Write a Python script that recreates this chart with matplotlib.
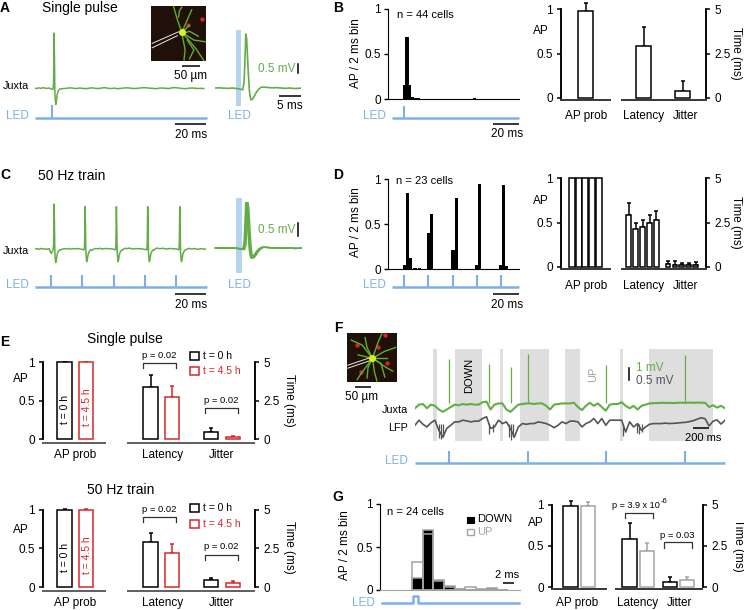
import matplotlib
matplotlib.use("Agg")
import matplotlib.pyplot as plt
import numpy as np
from matplotlib.patches import Rectangle

W, H = 744, 610
GREEN = "#62ad45"
BLUE = "#7db0ea"
PALE_BLUE = "#b3d5ee"
RED = "#d9262c"
GREY = "#a3a3a3"
SHADE = "#dedede"
DARK = "#333333"

plt.rcParams["font.family"] = ["Liberation Sans", "DejaVu Sans"]
plt.rcParams["font.size"] = 8.5

# panel A and C traces, mV
SPIKE_T = [-0.6, -0.3, 0, 0.25, 0.5, 0.8, 1.1, 1.5, 2, 2.8, 3.6]
SPIKE_V = [-0.02, 0.1, 1, 0.55, -0.05, -0.22, -0.3, -0.24, -0.12, -0.05, -0.02]
A_SPIKE_TIMES = [12.3]
A_SPIKE_SCALE = [3.05]
A_GAPS = [
    [-0.01, -0.03, 0.01, -0.02, 0.02, -0.01, -0.02, 0.0, -0.06],
    [-0.05, -0.03, -0.02, 0.01, -0.01, -0.03, 0.0, -0.02, -0.04, -0.01, 0.01, -0.02, -0.03, 0.0, 0.02,
     -0.02, -0.03, -0.01, -0.04, -0.02, 0.0, 0.01, -0.01, -0.03, -0.02, 0.0, 0.02, 0.01, -0.01, -0.02,
     -0.04, -0.01, 0.0, -0.02, -0.03, 0.01, 0.02, 0.0, -0.02, -0.04, -0.02, 0.0, -0.01, -0.03, -0.02, -0.03],
]
C_SPIKE_TIMES = [12.3, 32.3, 52.5, 72.7, 93.4]
C_SPIKE_SCALE = [2.5, 2.35, 2.35, 2.35, 2.35]
C_GAPS = [
    [0.0, 0.02, -0.02, 0.03, 0.0, 0.01, -0.02, 0.02, -0.25],
    [-0.06, -0.01, 0.02, 0.0, 0.03, -0.01, 0.02, 0.01, 0.03, 0.0, -0.02],
    [-0.08, -0.02, 0.03, 0.01, 0.04, 0.0, 0.02, 0.03, 0.0, 0.02, -0.01],
    [-0.05, 0.04, 0.02, 0.05, 0.02, 0.0, 0.03, 0.01, 0.02, 0.0, -0.02],
    [-0.06, 0.05, 0.03, 0.02, 0.04, 0.01, 0.0, 0.03, 0.02, 0.01, 0.0],
    [-0.04, 0.02, 0.03, 0.0, 0.01, 0.03, 0.0, -0.02, 0.01, 0.02, 0.0, -0.01],
]
AZ_T = [0, 1, 2, 3, 4, 4.5, 5, 5.5, 6, 6.3, 6.6, 6.8, 7, 7.2, 7.4, 7.6, 7.8, 8, 8.2, 8.5, 9, 9.5,
        10, 10.5, 11, 12, 13, 14, 15, 16, 17, 18, 19.5]
AZ_V = [0.0, 0.01, -0.01, -0.02, 0.0, -0.02, -0.03, -0.05, -0.08, -0.1, 0.3, 1.5, 3.0, 2.7, 1.7, 0.7,
        -0.1, -0.5, -0.67, -0.62, -0.42, -0.2, -0.05, 0.04, 0.05, 0.03, 0.01, 0.02, 0.0, -0.02, 0.0,
        -0.03, -0.01]
CZ_SHIFTS = [0.2, 0.35, 0.5, 0.7]
CZ_GAIN = 0.84

# histograms
B_BINS = [0.2, 2.3, 4.4, 6.5, 8.5, 10.5, 53]
B_HIST = [0.15, 0.69, 0.15, 0.02, 0.015, 0.01, 0.01]
D_BINS = [0.41, 2.73, 5.05, 9, 12.6, 20.2, 22.5, 40.2, 42.8, 59.6, 62, 79.6, 81.8, 84]
D_HIST = [0.04, 0.84, 0.12, 0.01, 0.01, 0.4, 0.61, 0.21, 0.79, 0.05, 0.95, 0.04, 0.93, 0.03]
G_BINS = [1, 3, 5, 7, 9, 11, 13, 15, 17]
G_DOWN = [0.14, 0.7, 0.12, 0.05, 0.01, 0.0, 0.0, 0.02, 0.0]
G_UP = [0.32, 0.65, 0.11, 0.03, 0.01, 0.03, 0.01, 0.01, 0.0]
G_LED_T = [-5.7, 0.1, 0.1, 1.1, 1.1, 20.1]
G_LED_V = [0, 0, 1, 1, 0, 0]

# bar panels: AP probability and time (ms)
B_PROB, B_PROB_ERR = [0.98], [0.09]
B_TIME, B_TIME_ERR = [2.95, 0.4], [1.05, 0.56]
D_PROB = [1, 1, 1, 1, 1]
D_LAT = [2.92, 2.11, 2.26, 2.49, 2.66]
D_LAT_ERR = [0.68, 0.38, 0.38, 0.45, 0.51]
D_JIT = [0.17, 0.1, 0.08, 0.08, 0.1]
D_JIT_ERR = [0.18, 0.2, 0.12, 0.12, 0.15]
E1_TIME_0, E1_TIME_0_ERR = [3.37, 0.48], [0.8, 0.26]
E1_TIME_4, E1_TIME_4_ERR = [2.76, 0.11], [0.72, 0.06]
E2_TIME_0, E2_TIME_0_ERR = [2.91, 0.45], [0.56, 0.15]
E2_TIME_4, E2_TIME_4_ERR = [2.22, 0.24], [0.54, 0.15]
G_PROB_DOWN, G_PROB_DOWN_ERR = [0.98], [0.07]
G_PROB_UP, G_PROB_UP_ERR = [0.98], [0.05]
G_TIME_DOWN, G_TIME_DOWN_ERR = [2.92, 0.34], [0.95, 0.31]
G_TIME_UP, G_TIME_UP_ERR = [2.2, 0.42], [0.48, 0.23]

# panel F, ms and mV
F_DURATION = 3950
F_DOWN_ON = [233, 510, 1083, 1338, 1911, 2612, 2985]
F_DOWN_OFF = [276, 850, 1125, 1703, 2098, 2650, 3800]
F_SPIKES = [437, 947, 1227, 1440, 2437, 3444]
F_HEIGHTS = [3.67, 3.3, 3.0, 4.1, 3.2, 4.0]
F_LED = [433, 1440, 2437, 3444]
F_JUXTA = [-0.4, -0.1, -0.05, -0.4, -0.1, -0.2, -0.5, -0.7, -0.5, -0.3, -0.1, -0.15, -0.05, -0.1, -0.05,
           -0.1, -0.1, 0.1, 0.15, -0.5, -0.1, 0.0, 0.0, -0.5, -0.7, -0.4, -0.1, -0.05, 0.0, 0.0, -0.05,
           0.0, 0.0, -0.2, -0.5, -0.1, -0.05, 0.0, 0.0, 0.0, 0.05, -0.3, -0.55, -0.2, 0.05, -0.2, 0.0,
           -0.3, -0.6, -0.1, -0.05, -0.05, 0.1, -0.2, -0.4, -0.2, -0.5, -0.2, -0.1, 0.0, 0.02, 0.03, 0.05,
           0.04, 0.05, 0.03, 0.05, 0.06, 0.05, 0.07, 0.05, 0.07, 0.06, 0.05, -0.3, -0.15, -0.35, -0.2, -0.4]
F_LFP = [-0.07, 0.14, -0.03, -0.14, 0.03, 0.14, -0.28, -0.56, -0.2, -0.07, 0.07, 0.07, 0.14, 0.11, 0.07,
         0.1, 0.1, 0.21, 0.28, -0.2, -0.14, 0.14, 0.0, 0.07, -0.21, -0.56, -0.14, 0.0, -0.03, 0.0, 0.0,
         0.07, 0.04, 0.0, -0.07, -0.17, -0.07, 0.07, 0.0, 0.1, 0.1, 0.07, -0.14, 0.0, 0.07, 0.21, 0.0,
         0.21, -0.07, 0.14, 0.14, 0.14, 0.14, -0.35, 0.07, -0.14, 0.0, -0.28, -0.14, -0.03, 0.0, 0.0, 0.0,
         0.02, 0.0, 0.01, 0.02, 0.04, 0.05, 0.08, 0.12, 0.18, 0.24, 0.2, -0.1, 0.1, 0.15, -0.02, 0.14]
F_LFP_DIPS = [306, 332, 357, 944, 995, 1199, 1225, 1250, 2653, 2832, 2857, 2891]
F_LFP_DEPTH = [-0.6, -0.65, -0.55, -0.45, -0.35, -0.55, -0.7, -0.55, -0.5, -0.4, -0.45, -0.35]

# micrographs, percent of image size
CELL_A = [([56, 48, 41], [48, 25, 1]), ([56, 66, 74], [48, 25, 7]), ([56, 78, 99], [48, 62, 65]),
          ([60, 82, 96], [52, 78, 99]), ([56, 62, 60], [48, 80, 98]), ([56, 70], [48, 35]),
          ([66, 78, 70], [62, 80, 96]), ([50, 52, 56], [20, 8, 2]), ([58, 70, 86], [50, 46, 55])]
CELL_F = [([51, 30, 8], [52, 25, 15]), ([51, 62, 70], [52, 20, 2]), ([51, 75, 98], [52, 38, 30]),
          ([51, 78, 92], [52, 70, 78]), ([51, 55, 60], [52, 80, 98]), ([51, 30, 20], [52, 80, 95]),
          ([51, 22], [52, 45]), ([51, 40, 36], [52, 30, 10]), ([51, 68, 76], [52, 62, 90]),
          ([51, 42, 40], [52, 70, 92]), ([51, 80], [52, 52])]
RED_A = ([68, 93], [35, 24])
RED_F = ([63, 80, 27, 19, 76], [28, 62, 79, 25, 5])
PIPETTE_A = [([2, 50], [68, 47]), ([2, 48], [76, 54])]
PIPETTE_F = [([1, 48], [66, 50]), ([1, 48], [72, 56])]

fig = plt.figure(figsize=(W / 100, H / 100), dpi=100)
canvas = fig.add_axes([0, 0, 1, 1], zorder=20)
canvas.set_xlim(0, W)
canvas.set_ylim(H, 0)
canvas.axis("off")


def px_axes(x0, x1, y0, y1, **kw):
    """Axes placed by reference pixels; y0 is the top edge."""
    ax = fig.add_axes([x0 / W, 1 - y1 / H, (x1 - x0) / W, (y1 - y0) / H], **kw)
    ax.patch.set_alpha(0)
    return ax


def label(x, y, text, ha="center", size=8.5, color="black", **kw):
    canvas.text(x, y, text, ha=ha, va="center", fontsize=size, color=color, **kw)


def hbar(x0, x1, y, color="black", lw=1.1):
    canvas.plot([x0, x1], [y, y], color=color, lw=lw, solid_capstyle="butt")


def bracket(x0, x1, y0, y1):
    canvas.plot([x0, x0, x1, x1], [y1, y0, y0, y1], color=DARK, lw=0.9)


def build_trace(spike_times, scales, gaps, end):
    times, volts = [], []
    start = 0
    for i, gap in enumerate(gaps):
        stop = spike_times[i] + SPIKE_T[0] if i < len(spike_times) else end
        times.extend(np.linspace(start, stop, len(gap), endpoint=False))
        volts.extend(gap)
        if i < len(spike_times):
            times.extend(spike_times[i] + np.array(SPIKE_T))
            volts.extend(np.array(SPIKE_V) * scales[i])
            start = spike_times[i] + SPIKE_T[-1] + 0.4
    return times, volts


def trace_axes(x0, x1, y0, y1, base, ms_per_px):
    ax = px_axes(x0, x1, y0, y1)
    ax.set_xlim(0, (x1 - x0) * ms_per_px)
    ax.set_ylim((base - y1) / 18, (base - y0) / 18)
    ax.axis("off")
    return ax


def led_axes(x0, x1, y0, y1, onsets, xlim):
    ax = px_axes(x0, x1, y0, y1)
    ax.set_xlim(*xlim)
    ax.set_ylim(0, 1)
    ax.axis("off")
    ax.hlines(0, xlim[0], xlim[1], color=BLUE, lw=1.8, clip_on=False)
    ax.vlines(onsets, 0, 1, color=BLUE, lw=1.5, clip_on=False)


def hist_axes(x0, x1, y0, y1, xlim, color="black"):
    ax = px_axes(x0, x1, y0, y1)
    ax.set_xlim(*xlim)
    ax.set_ylim(0, 1)
    ax.spines[["top", "right"]].set_visible(False)
    ax.spines["bottom"].set_color(color)
    ax.set_xticks([])
    ax.set_yticks([0, 0.5, 1], ["0", "0.5", "1"])
    ax.tick_params(axis="y", length=3, width=1, pad=2)
    return ax


def bar_axes(x0, x1, y0, y1):
    """AP axis on the left, time axis on the right; x runs in reference pixels."""
    ax = px_axes(x0, x1, y0, y1)
    ax.set_xlim(x0, x1)
    ax.set_ylim(0, 1)
    ax.set_yticks([0, 0.5, 1], ["0", "0.5", "1"])
    ax.set_xticks([])
    ax.spines[["top", "bottom"]].set_visible(False)
    ax.tick_params(axis="y", length=3, width=1.1, pad=3)
    ax.spines["left"].set_linewidth(1.1)
    ax.spines["right"].set_linewidth(1.1)
    tx = ax.twinx()
    tx.patch.set_alpha(0)
    tx.set_ylim(0, 5)
    tx.set_yticks([0, 2.5, 5], ["0", "2.5", "5"])
    tx.spines[["top", "bottom"]].set_visible(False)
    tx.spines["left"].set_linewidth(1.1)
    tx.spines["right"].set_linewidth(1.1)
    tx.tick_params(axis="y", length=3, width=1.1, pad=3)
    return ax, tx


def bars(ax, centers, width, vals, errs=None, color="black", lw=1.1):
    ax.bar(centers, vals, width, fc="white", ec=color, lw=lw, clip_on=False, zorder=3)
    if errs is not None:
        ax.errorbar(centers, vals, yerr=[np.zeros(len(errs)), errs], fmt="none", ecolor=color,
                    elinewidth=lw, capsize=1.3, capthick=lw, clip_on=False, zorder=2)


def micrograph(x0, x1, y0, y1, cell, reds, pipette, soma):
    ax = px_axes(x0, x1, y0, y1)
    ax.patch.set_alpha(1)
    ax.patch.set_facecolor("#1f1009")
    ax.set_xlim(0, 100)
    ax.set_ylim(100, 0)
    ax.set_xticks([])
    ax.set_yticks([])
    for s in ax.spines.values():
        s.set_visible(False)
    for xs, ys in cell:
        ax.plot(xs, ys, color="#5fae2c", lw=1.0, clip_on=True)
    ax.scatter(*reds, s=10, color="#d8202a", lw=0)
    for xs, ys in pipette:
        ax.plot(xs, ys, color="#f0e6e6", lw=0.7)
    ax.scatter([soma[0]], [soma[1]], s=26, color="#d8f020", lw=0, zorder=4)


# panel letters and titles
for letter, lx, ly in [("A", 5, 8), ("B", 338, 8), ("C", 5, 175), ("D", 338, 175), ("E", 5, 342),
                       ("F", 338, 328), ("G", 338, 497)]:
    label(lx, ly, letter, size=10, weight="bold")
label(80, 8, "Single pulse", size=10)
label(72, 175.5, "50 Hz train", size=10)
label(125, 339, "Single pulse", size=10)
label(120.5, 489.5, "50 Hz train", size=10)

# A
ax = trace_axes(35, 207, 25, 110, 88, 1 / 1.55)
ax.plot(*build_trace(A_SPIKE_TIMES, A_SPIKE_SCALE, A_GAPS, 111), color=GREEN, lw=1.1)
led_axes(35, 207, 105, 117.5, [11], (0, 111))
label(29, 86, "Juxta", ha="right", size=7.8)
label(29, 116, "LED", ha="right", color=BLUE)
hbar(175, 206, 124)
label(191, 135, "20 ms")
micrograph(151, 206, 6, 61, CELL_A, RED_A, PIPETTE_A, (56, 48))
hbar(182, 200, 66)
label(191, 76, "50 µm")
ax = trace_axes(215, 301, 30, 106, 88, 1 / 4.4)
ax.axvspan(4.8, 6.0, color=PALE_BLUE, lw=0)
ax.plot(AZ_T, AZ_V, color=GREEN, lw=1.2)
label(239, 116, "LED", color=BLUE)
label(277, 69, "0.5 mV", color=GREEN)
canvas.plot([297.5, 297.5], [64, 73], color="black", lw=1.1)
hbar(279, 301, 95.5)
label(290, 106, "5 ms")

# B
ax = hist_axes(388, 519, 8.5, 99, (-12, 86.25))
ax.bar(B_BINS, B_HIST, 2.4, color="black")
led_axes(392, 519, 106, 118, [0], (-9, 86.25))
label(386, 116, "LED", ha="right", color=BLUE)
hbar(493, 519, 124)
label(507, 134, "20 ms")
label(425, 15, "n = 44 cells", size=8)
label(356, 53, "AP / 2 ms bin", rotation=90)
ax, tx = bar_axes(561, 706, 9.3, 97.7)
bars(ax, [585.5], 15, B_PROB, B_PROB_ERR)
bars(tx, [643.5, 682.5], 15, B_TIME, B_TIME_ERR)
hbar(560, 611, 100)
hbar(621, 707, 100)
label(541, 31, "AP")
label(736, 53, "Time (ms)", rotation=270)
label(586, 116, "AP prob")
label(644, 116, "Latency")
label(686, 116, "Jitter")

# C
ax = trace_axes(35, 207, 198, 275, 249, 1 / 1.55)
ax.plot(*build_trace(C_SPIKE_TIMES, C_SPIKE_SCALE, C_GAPS, 111), color=GREEN, lw=1.1)
led_axes(35, 207, 275, 287.3, [10.5, 30.5, 50.8, 71.2, 90.8], (0, 111))
label(29, 250.5, "Juxta", ha="right", size=7.8)
label(29, 285, "LED", ha="right", color=BLUE)
hbar(175, 206, 294)
label(191, 304.5, "20 ms")
ax = trace_axes(214, 302, 198, 273, 248, 1 / 4.4)
ax.axvspan(5.0, 6.3, color=PALE_BLUE, lw=0)
for shift in CZ_SHIFTS:
    ax.plot(np.array(AZ_T) + shift, np.array(AZ_V) * CZ_GAIN, color=GREEN, lw=1.0)
label(239, 285, "LED", color=BLUE)
label(277, 230, "0.5 mV", color=GREEN)
canvas.plot([297.5, 297.5], [223, 236], color="black", lw=1.1)

# D
ax = hist_axes(388, 519, 179, 269, (-13.1, 94.3))
ax.bar(D_BINS, D_HIST, 2.7, color="black")
led_axes(392, 519, 275, 287, [0, 19.9, 39.9, 59.6, 79.3], (-9.8, 94.3))
label(386, 285, "LED", ha="right", color=BLUE)
hbar(493, 519, 294)
label(507, 304.5, "20 ms")
label(425, 181.5, "n = 23 cells", size=8)
label(356, 222, "AP / 2 ms bin", rotation=90)
ax, tx = bar_axes(561, 706, 178.3, 266.7)
bars(ax, [571.7, 578.7, 585.3, 592.2, 599], 6, D_PROB)
bars(tx, [628.7, 635.7, 642.7, 649.7, 656.3], 4.7, D_LAT, D_LAT_ERR)
bars(tx, [668, 675, 681.7, 688.7, 695.7], 4.7, D_JIT, D_JIT_ERR)
hbar(560, 611, 269)
hbar(621, 707, 269)
label(541, 200.5, "AP")
label(736, 222, "Time (ms)", rotation=270)
label(586, 286, "AP prob")
label(644, 286, "Latency")
label(686, 286, "Jitter")

# E, single pulse and train share one layout
for top, bottom, base, t0, t0_err, t4, t4_err, prob_err, dy in [
    (362.3, 439, 442.7, E1_TIME_0, E1_TIME_0_ERR, E1_TIME_4, E1_TIME_4_ERR, 0, 0),
    (509.7, 587, 590.7, E2_TIME_0, E2_TIME_0_ERR, E2_TIME_4, E2_TIME_4_ERR, 0.005, 1),
]:
    ax, tx = bar_axes(43, 255, top, bottom)
    bars(ax, [64.5], 14.7, [1], [prob_err])
    bars(ax, [86], 14.7, [1], [prob_err], color=RED)
    bars(tx, [150.5, 211], 14.7, t0, t0_err)
    bars(tx, [172, 233], 14.7, t4, t4_err, color=RED)
    hbar(42, 106, base, color=DARK)
    hbar(127, 255, base, color=DARK)
    label(20.5, top + 17 + 3 * dy, "AP")
    label(289, top + 38, "Time (ms)", rotation=270)
    label(74.7, base + 12.3, "AP prob")
    label(162.3, base + 12.3, "Latency")
    label(221.7, base + 12.3, "Jitter")
    label(64.5, bottom - 29, "t = 0 h", rotation=90, size=7.5)
    label(87, bottom - 32, "t = 4.5 h", rotation=90, size=7.5, color=RED)
    bracket(143, 176, top + 1 + 6 * dy, top + 6 + 6.7 * dy)
    bracket(204.7, 238.3, top + 45.4, top + 50.7)
    label(159.3, top - 6.5 + dy * 6, "p = 0.02", size=6.8)
    label(221, top + 38 - dy, "p = 0.02", size=6.8)
    for ky, color, text in [(top - 6.3 + dy * 4.9, "black", "t = 0 h"), (top + 8.7 + dy * 5.3, RED, "t = 4.5 h")]:
        canvas.add_patch(Rectangle((190.3, ky - 4), 8.4, 8, fc="white", ec=color, lw=1.1))
        label(202.7, ky, text, ha="left", size=7.5, color=color)

# F
micrograph(347.3, 396.7, 332.7, 382, CELL_F, RED_F, PIPETTE_F, (51, 52))
hbar(355, 371, 387.3)
label(362, 397, "50 µm")
shade = px_axes(415, 725, 349, 440.7)
shade.set_xlim(0, F_DURATION)
shade.axis("off")
for on, off in zip(F_DOWN_ON, F_DOWN_OFF):
    shade.axvspan(on, off, color=SHADE, lw=0)
ax = px_axes(415, 725, 349, 440.7)
ax.set_xlim(0, F_DURATION)
ax.set_ylim(-37 / 12, 54 / 12)
ax.axis("off")
ax.plot(np.linspace(0, F_DURATION, len(F_JUXTA)), F_JUXTA, color=GREEN, lw=1.5)
ax.vlines(F_SPIKES, 0, F_HEIGHTS, color=GREEN, lw=0.9)
ax = px_axes(415, 725, 349, 440.7)
ax.set_xlim(0, F_DURATION)
ax.set_ylim(-17 / 24, 74 / 24)
ax.axis("off")
ax.plot(np.linspace(0, F_DURATION, len(F_LFP)), F_LFP, color="#555555", lw=1.2)
ax.vlines(F_LFP_DIPS, 0, F_LFP_DEPTH, color="#555555", lw=0.9)
led_axes(415, 725, 451, 463.3, F_LED, (0, F_DURATION))
label(408, 461, "LED", ha="right", color=BLUE)
label(407.7, 410, "Juxta", ha="right", size=7.8)
label(407.7, 427.7, "LFP", ha="right", size=7.8)
label(469, 375, "DOWN", rotation=90, size=8)
label(592.7, 374, "UP", rotation=90, size=8, color=GREY)
canvas.plot([629.3, 629.3], [368, 380], color="black", lw=1.1)
label(636, 367.7, "1 mV", ha="left", color=GREEN)
label(636, 381, "0.5 mV", ha="left", color="#555555")
hbar(693.3, 709, 427.7)
label(702.7, 438, "200 ms", size=8)

# G
ax = hist_axes(380, 520, 504, 590, (-6, 20.25), color=GREY)
ax.bar(G_BINS, G_DOWN, 2, fc="black", ec=GREY, lw=1.1)
ax.bar(G_BINS, G_UP, 2, fc="none", ec=GREY, lw=1.1)
led = px_axes(381.7, 519, 595.7, 603.3)
led.set_xlim(-5.7, 20.1)
led.set_ylim(0, 1)
led.axis("off")
led.plot(G_LED_T, G_LED_V, color=BLUE, lw=1.8, clip_on=False)
label(375, 602.7, "LED", ha="right", color=BLUE)
label(345, 545.5, "AP / 2 ms bin", rotation=90)
label(415, 511.7, "n = 24 cells", size=8)
canvas.add_patch(Rectangle((467.3, 516.7), 6.7, 6, fc="black", ec="black", lw=0.8))
label(477.3, 519, "DOWN", ha="left", size=8)
canvas.add_patch(Rectangle((467.3, 529.3), 6.7, 5.7, fc="white", ec=GREY, lw=1))
label(477.3, 532.3, "UP", ha="left", size=8, color=GREY)
label(506.7, 575, "2 ms", size=8)
hbar(503.3, 514, 583)
ax, tx = bar_axes(552, 702.7, 504.7, 587.3)
bars(ax, [570.5], 14.4, G_PROB_DOWN, G_PROB_DOWN_ERR)
bars(ax, [588], 14.4, G_PROB_UP, G_PROB_UP_ERR, color=GREY)
bars(tx, [629.5, 669.8], 14.4, G_TIME_DOWN, G_TIME_DOWN_ERR)
bars(tx, [646.7, 686.7], 14.4, G_TIME_UP, G_TIME_UP_ERR, color=GREY)
hbar(550.7, 606.7, 589)
hbar(615, 703.3, 589)
label(536, 523.3, "AP")
label(738, 545, "Time (ms)", rotation=270)
label(576.7, 602.7, "AP prob")
label(637.3, 602.7, "Latency")
label(679.3, 602.7, "Jitter")
bracket(625.3, 653.3, 513, 518.3)
bracket(664.3, 692.3, 542.3, 547.7)
label(611.7, 506, "p = 3.9 x 10", ha="left", size=6.6)
label(661, 501.5, "-6", ha="left", size=5.5)
label(676.7, 535, "p = 0.03", size=6.8)

fig.savefig("out.png", dpi=100)
